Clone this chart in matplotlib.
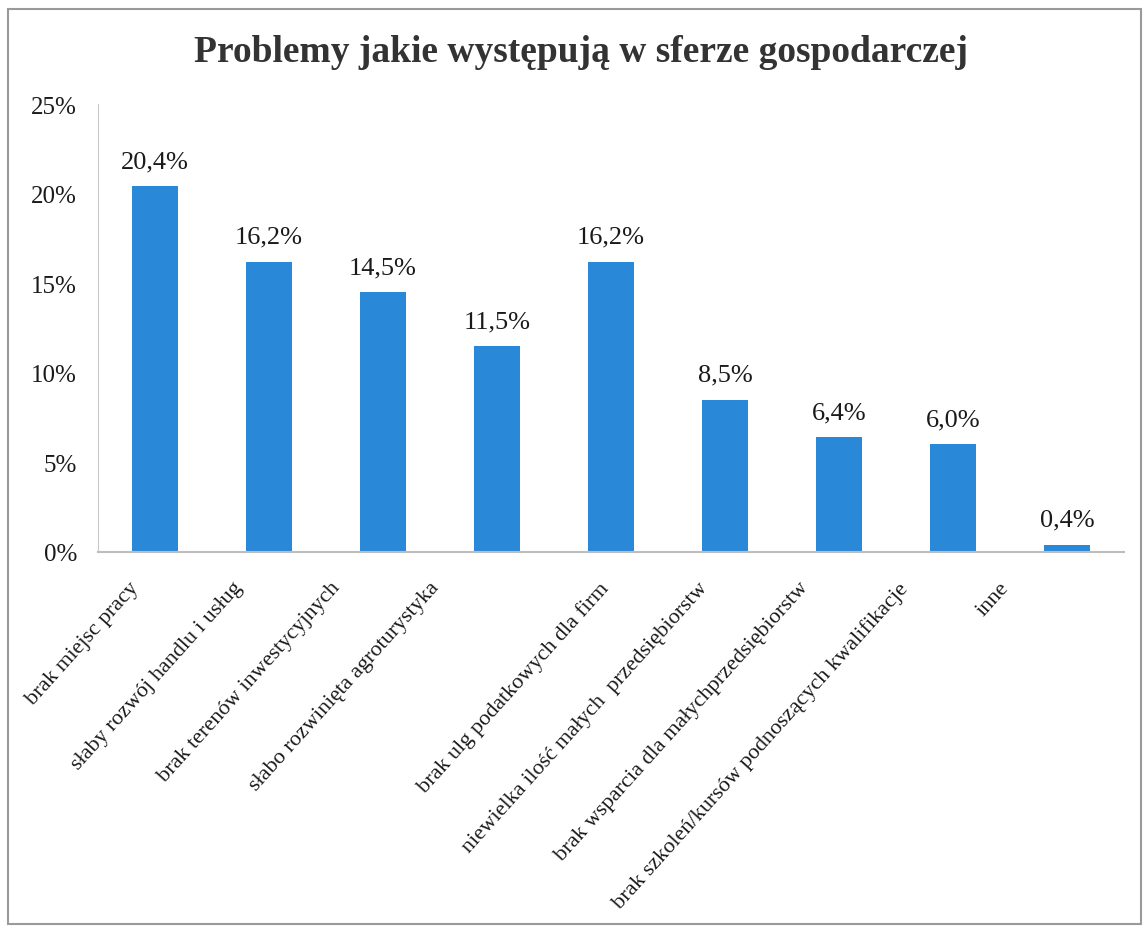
import matplotlib
matplotlib.use("Agg")
import matplotlib.pyplot as plt
from matplotlib.patches import Rectangle
from matplotlib.ticker import FuncFormatter

title = "Problemy jakie występują w sferze gospodarczej"
categories = [
    "brak miejsc pracy",
    "słaby rozwój handlu i usług",
    "brak terenów inwestycyjnych",
    "słabo rozwinięta agroturystyka",
    "brak ulg podatkowych dla firm",
    "niewielka ilość małych  przedsiębiorstw",
    "brak wsparcia dla małychprzedsiębiorstw",
    "brak szkoleń/kursów podnoszących kwalifikacje",
    "inne",
]
values = [20.4, 16.2, 14.5, 11.5, 16.2, 8.5, 6.4, 6.0, 0.4]
yticks = [0, 5, 10, 15, 20, 25]

# layout only: horizontal pixel shift of each category label end from its tick
label_shift_px = [-26, -37, -53, -68, -13, -27, -41, -55, -68]

serif = ["Liberation Serif", "DejaVu Serif"]
plt.rcParams["font.family"] = serif

W, H = 1147, 929
fig = plt.figure(figsize=(W / 100, H / 100), dpi=100)
ax = fig.add_axes([98 / W, 1 - 553 / H, (1124 - 98) / W, (553 - 105) / H])

x = list(range(len(categories)))
bars = ax.bar(x, values, width=0.4, color="#2A88D8", zorder=2)

ax.set_xlim(-0.5, len(categories) - 0.5)
ax.set_ylim(0, 25)
ax.set_yticks(yticks)
ax.yaxis.set_major_formatter(FuncFormatter(lambda v, p: f"{int(v)}%"))
ax.tick_params(axis="y", length=0, labelsize=18, pad=15, colors="#1a1a1a")
ax.set_xticks(x)
ax.set_xticklabels([])
ax.tick_params(axis="x", length=0)

for i, (lab, dx) in enumerate(zip(categories, label_shift_px)):
    ax.annotate(lab, (i, 0), xycoords=("data", "axes fraction"),
                xytext=(dx, -26), textcoords="offset pixels",
                rotation=48, ha="right", va="top", rotation_mode="anchor",
                fontsize=16, color="#1a1a1a", annotation_clip=False)

for s in ["top", "right"]:
    ax.spines[s].set_visible(False)
ax.spines["left"].set_color("#c8c8c8")
ax.spines["bottom"].set_color("#bdbdbd")
ax.spines["bottom"].set_linewidth(1.5)

for b, v in zip(bars, values):
    ax.annotate(f"{v:.1f}%".replace(".", ","),
                (b.get_x() + b.get_width() / 2, v),
                xytext=(0, 10), textcoords="offset points",
                ha="center", va="bottom", fontsize=19, color="#1a1a1a")

fig.text(581 / W, 1 - 52 / H, title, ha="center", va="center",
         fontsize=27, fontweight="bold", color="#333333")

fig.patches.append(Rectangle((8 / W, 4 / H), (1141 - 8) / W, (919 - 4) / H,
                             transform=fig.transFigure, fill=False,
                             edgecolor="#9a9a9a", linewidth=1.5))

fig.savefig("out.png", dpi=100)
